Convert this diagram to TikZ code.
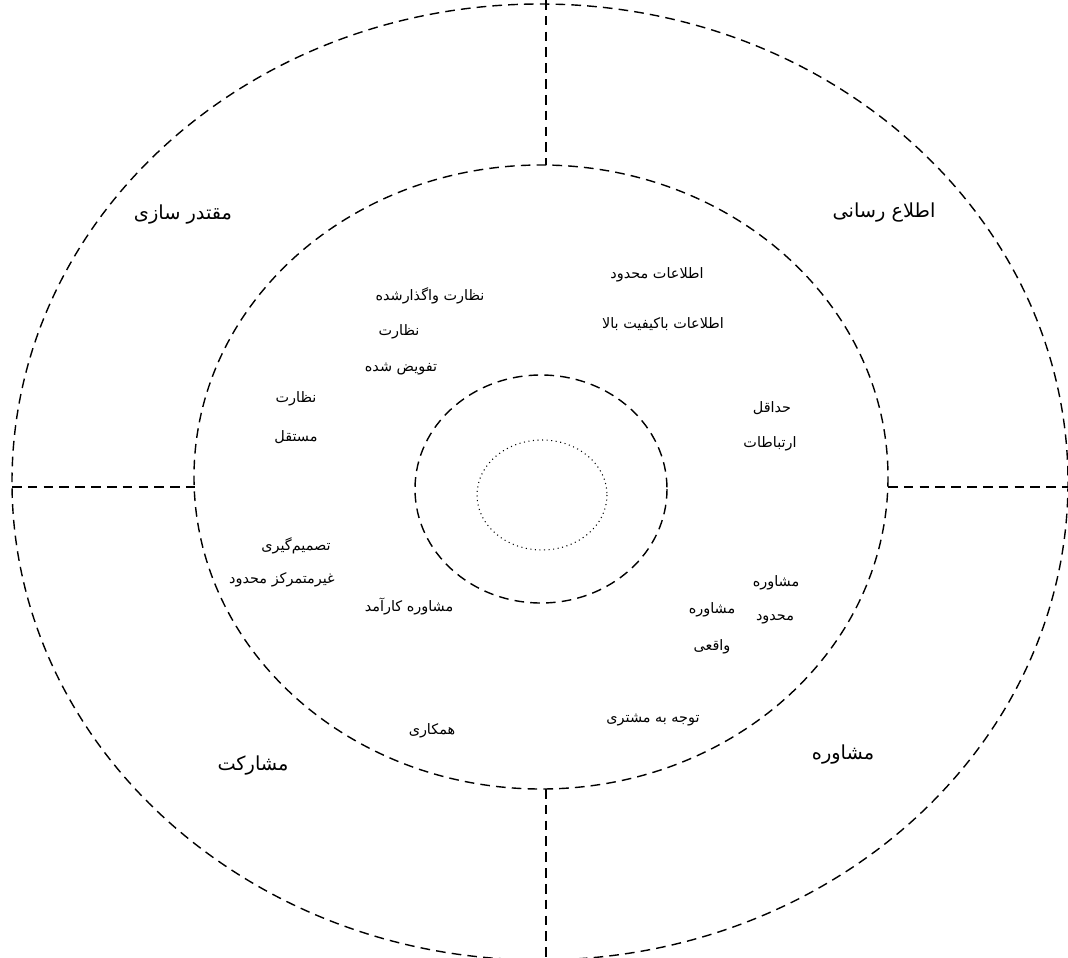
\documentclass[tikz,border=0pt]{standalone}
\usepackage{fontspec}
\newfontfamily\fa[Script=Arabic]{DejaVu Sans}
\TeXXeTstate=1
\tikzset{
  ring/.style={draw=black, line width=0.8pt, dash pattern=on 5.5pt off 3.5pt},
  divider/.style={draw=black, line width=1pt, dash pattern=on 5.5pt off 3.5pt},
  core/.style={draw=black, line width=0.6pt, dotted},
  outerlab/.style={font=\fa\fontsize{11}{13}\selectfont, inner sep=1pt},
  innerlab/.style={font=\fa\fontsize{8.2}{10}\selectfont, inner sep=1pt}
}
\begin{document}
\begin{tikzpicture}[x=0.02cm, y=-0.02cm]
\useasboundingbox (0,0) rectangle (1068,957);
% ellipses
\draw[ring] (540,482) ellipse [x radius=528, y radius=478];
\draw[ring] (541,477) ellipse [x radius=347, y radius=312];
\draw[ring] (541,489) ellipse [x radius=126, y radius=114];
\draw[core] (542,495) ellipse [x radius=65, y radius=55];
% anchor coordinates for dividers
\coordinate (tTop) at (546,0);
\coordinate (tMid) at (546,165);
\coordinate (bMid) at (546,789);
\coordinate (bBot) at (546,957);
\coordinate (lOut) at (12,487);
\coordinate (lMid) at (195,487);
\coordinate (rMid) at (888,487);
\coordinate (rOut) at (1068,487);
\draw[divider] (tTop) -- (tMid);
\draw[divider] (bMid) -- (bBot);
\draw[divider] (lOut) -- (lMid);
\draw[divider] (rMid) -- (rOut);
% outer labels
\node[outerlab] (q1) at (183,215) {\beginR مقتدر سازی\endR};
\node[outerlab] (q2) at (884,213) {\beginR اطلاع رسانی\endR};
\node[outerlab] (q3) at (253,766) {\beginR مشارکت\endR};
\node[outerlab] (q4) at (843,755) {\beginR مشاوره\endR};
% inner labels
\node[innerlab] (a1) at (430,296) {\beginR نظارت واگذارشده\endR};
\node[innerlab] (a2) at (399,332) {\beginR نظارت\endR};
\node[innerlab] (a3) at (401,369) {\beginR تفویض شده\endR};
\node[innerlab] (b1) at (657,275) {\beginR اطلاعات محدود\endR};
\node[innerlab] (b2) at (663,324) {\beginR اطلاعات باکیفیت بالا\endR};
\node[innerlab] (c1) at (296,399) {\beginR نظارت\endR};
\node[innerlab] (c2) at (296,437) {\beginR مستقل\endR};
\node[innerlab] (d1) at (772,408) {\beginR حداقل\endR};
\node[innerlab] (d2) at (770,444) {\beginR ارتباطات\endR};
\node[innerlab] (e1) at (296,546) {\beginR تصمیم‌گیری\endR};
\node[innerlab] (e2) at (282,580) {\beginR غیرمتمرکز محدود\endR};
\node[innerlab] (e3) at (409,606) {\beginR مشاوره کارآمد\endR};
\node[innerlab] (f1) at (776,583) {\beginR مشاوره\endR};
\node[innerlab] (f2) at (775,619) {\beginR محدود\endR};
\node[innerlab] (g1) at (712,610) {\beginR مشاوره\endR};
\node[innerlab] (g2) at (712,647) {\beginR واقعی\endR};
\node[innerlab] (h1) at (653,720) {\beginR توجه به مشتری\endR};
\node[innerlab] (h2) at (432,731) {\beginR همکاری\endR};
\end{tikzpicture}
\end{document}
